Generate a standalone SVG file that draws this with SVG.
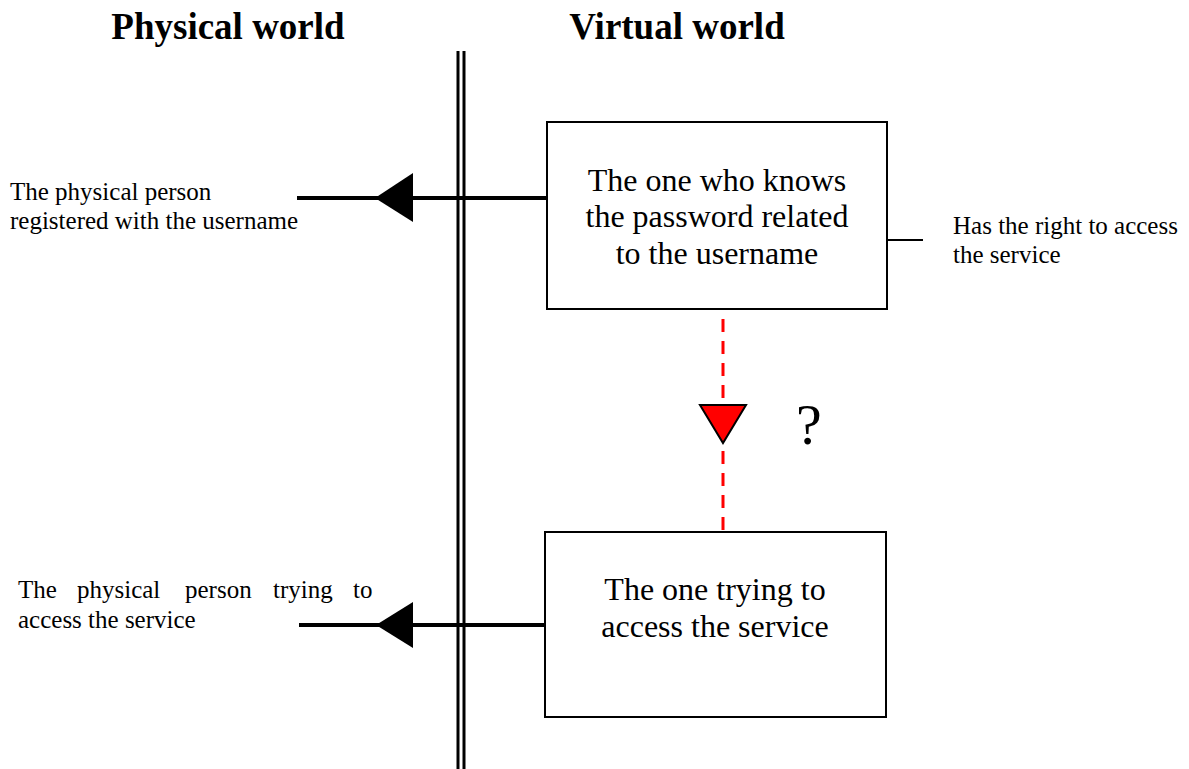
<svg xmlns="http://www.w3.org/2000/svg" width="1189" height="769" viewBox="0 0 1189 769">
  <defs>
    <style>
      text { font-family: "Liberation Serif", "Times New Roman", serif; fill: #000; }
      .head { font-size: 37px; font-weight: bold; text-anchor: middle; }
      .box { fill: #fff; stroke: #000; stroke-width: 2; }
      .boxtext { font-size: 32px; text-anchor: middle; }
      .note { font-size: 25px; }
      .link { stroke: #000; stroke-width: 4; fill: none; }
      .head-tri { fill: #000; stroke: none; }
    </style>
  </defs>
  <rect width="1189" height="769" fill="#fff"/>

  <!-- world headings -->
  <text class="head" x="228" y="39">Physical world</text>
  <text class="head" x="677" y="39">Virtual world</text>

  <!-- boundary between the two worlds -->
  <g id="boundary">
    <line x1="458" y1="51" x2="458" y2="769" stroke="#000" stroke-width="3"/>
    <line x1="464" y1="51" x2="464" y2="769" stroke="#000" stroke-width="3"/>
  </g>

  <g id="connectors">
    <line class="link" x1="297" y1="198" x2="548" y2="198"/>
    <polygon class="head-tri" points="375,198 413,173 413,222"/>
    <line class="link" x1="299" y1="625" x2="545" y2="625"/>
    <polygon class="head-tri" points="376,625 413,602 413,648"/>
    <line x1="887" y1="240" x2="923" y2="240" stroke="#000" stroke-width="2"/>
    <line x1="723" y1="319" x2="723" y2="531" stroke="#ff0000" stroke-width="3" stroke-dasharray="13,9"/>
    <polygon points="700,405 746,405 723,443" fill="#ff0000" stroke="#000" stroke-width="2" stroke-linejoin="miter"/>
    <text x="796" y="444" font-size="58">?</text>
  </g>

  <g id="node-knows-password">
    <rect class="box" x="547" y="122" width="340" height="187"/>
    <text class="boxtext" x="717" y="191">The one who knows</text>
    <text class="boxtext" x="717" y="227">the password related</text>
    <text class="boxtext" x="717" y="264">to the username</text>
  </g>

  <g id="node-trying">
    <rect class="box" x="545" y="532" width="341" height="185"/>
    <text class="boxtext" x="715" y="600">The one trying to</text>
    <text class="boxtext" x="715" y="637">access the service</text>
  </g>

  <g id="label-registered">
    <text class="note" x="10" y="200">The physical person</text>
    <text class="note" x="10" y="229">registered with the username</text>
  </g>

  <g id="label-trying">
    <text class="note" y="598"><tspan x="18">The</tspan><tspan x="77">physical</tspan><tspan x="185">person</tspan><tspan x="273">trying</tspan><tspan x="353">to</tspan></text>
    <text class="note" x="18" y="628">access the service</text>
  </g>

  <g id="label-right">
    <text class="note" x="953" y="234">Has the right to access</text>
    <text class="note" x="953" y="263">the service</text>
  </g>
</svg>
